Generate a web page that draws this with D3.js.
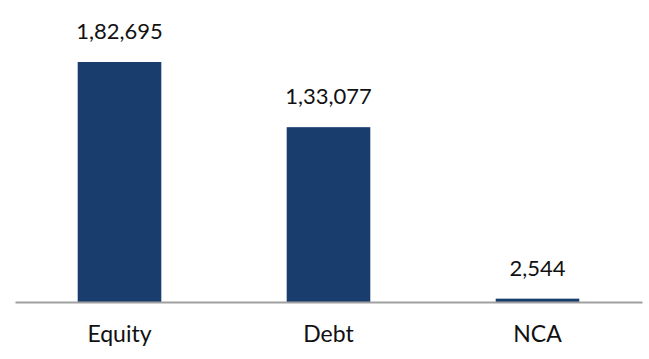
<!DOCTYPE html>
<html>
<head>
<meta charset="utf-8">
<script src="https://cdn.jsdelivr.net/npm/d3@7"></script>
<style>
  body { margin: 0; background: #fff; }
  text { font-family: "Source Sans Pro", Lato, "Open Sans", sans-serif; fill: #111; }
</style>
</head>
<body>
<script>
const categories = ['Equity', 'Debt', 'NCA'];
const values = [182695, 133077, 2544];

const width = 649, height = 359;
const margin = { left: 15, right: 7, baseline: 302, top: 62 };

const svg = d3.select('body')
  .append('svg')
  .attr('width', width)
  .attr('height', height);

const x = d3.scaleBand()
  .domain(categories)
  .range([margin.left, width - margin.right])
  .paddingInner(0.6)
  .paddingOuter(0.3);

const y = d3.scaleLinear()
  .domain([0, d3.max(values)])
  .range([margin.baseline, margin.top]);

// indian style grouping 1,82,695
function fmtIN(n) {
  const s = String(Math.round(n));
  if (s.length <= 3) return s;
  const last3 = s.slice(-3);
  const rest = s.slice(0, -3).replace(/\B(?=(\d{2})+(?!\d))/g, ',');
  return rest + ',' + last3;
}

const data = categories.map((c, i) => ({ cat: c, val: values[i] }));

svg.selectAll('rect.bar')
  .data(data)
  .enter()
  .append('rect')
  .attr('class', 'bar')
  .attr('x', d => x(d.cat))
  .attr('width', x.bandwidth())
  .attr('y', d => y(d.val))
  .attr('height', d => y(0) - y(d.val))
  .attr('fill', '#193d6d');

// axis line
const axis = svg.append('g')
  .attr('transform', 'translate(0,' + y(0) + ')')
  .call(d3.axisBottom(x).tickSize(0).tickPadding(24));
axis.select('.domain')
  .attr('stroke', '#a0a0a0')
  .attr('stroke-width', 2);
axis.selectAll('.tick text')
  .attr('font-size', 23)
  .attr('font-family', null)
  .attr('fill', '#111');

svg.selectAll('text.val')
  .data(data)
  .enter()
  .append('text')
  .attr('class', 'val')
  .attr('x', d => x(d.cat) + x.bandwidth() / 2)
  .attr('y', d => y(d.val) - 23)
  .attr('text-anchor', 'middle')
  .attr('font-size', 22)
  .text(d => fmtIN(d.val));
</script>
</body>
</html>
